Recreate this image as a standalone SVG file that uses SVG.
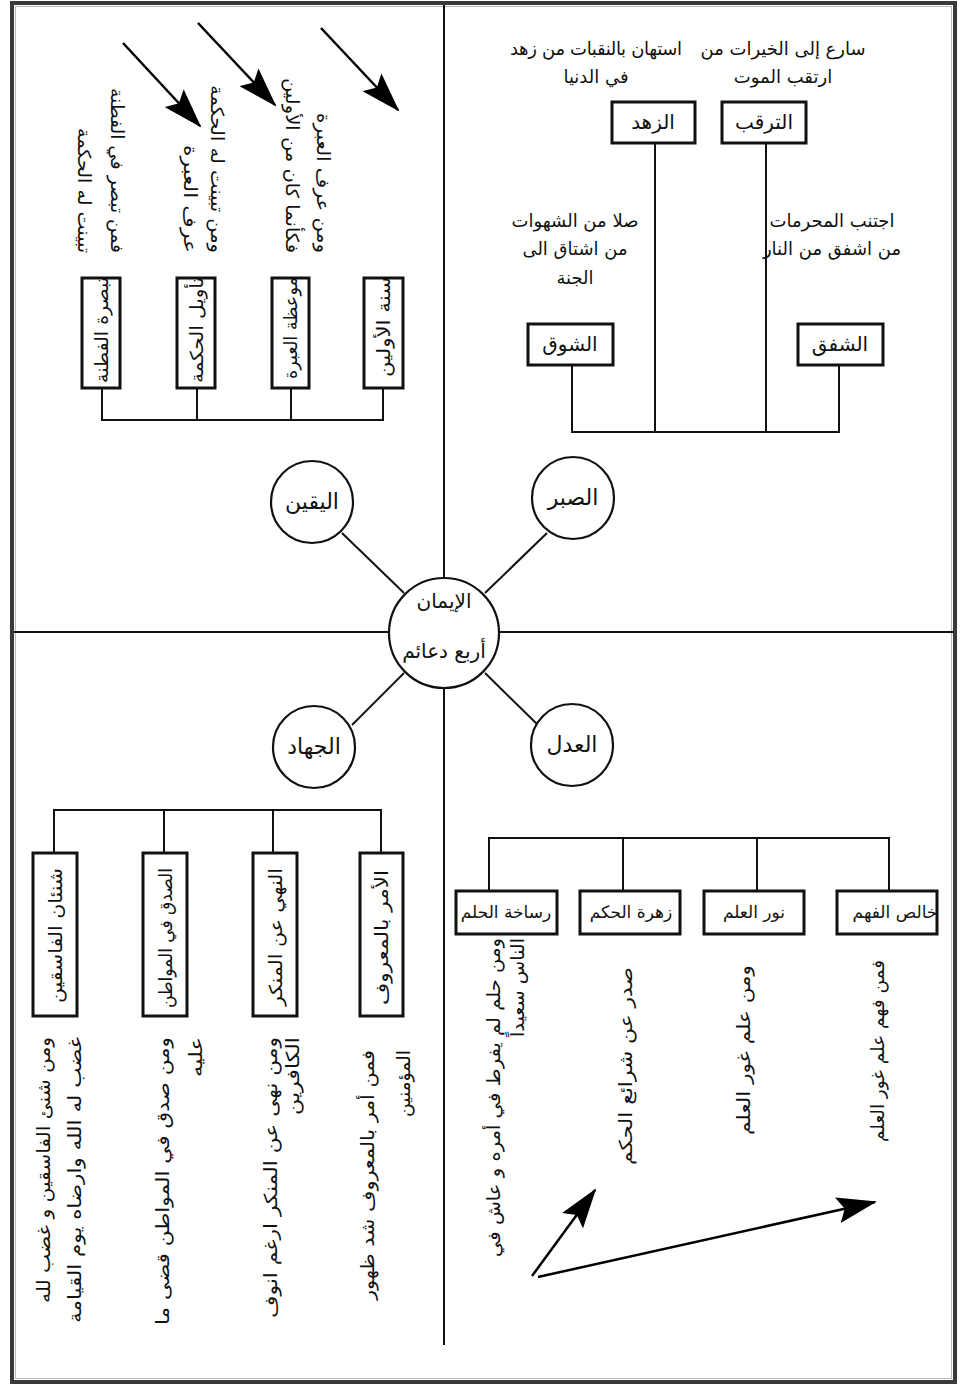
<svg xmlns="http://www.w3.org/2000/svg" width="966" height="1387" viewBox="0 0 966 1387">
<defs>
<marker id="ah" markerUnits="userSpaceOnUse" markerWidth="40" markerHeight="26" refX="38" refY="13" orient="auto">
<path d="M0,0 L40,13 L0,26 L7,13 Z" fill="#000"/>
</marker>
<style>
text{font-family:"DejaVu Sans","Noto Sans",sans-serif;fill:#111}
.ln{stroke:#111;stroke-width:2;fill:none}
.arr{stroke:#000;stroke-width:2.5;fill:none;marker-end:url(#ah)}
.box{fill:#fff;stroke:#111;stroke-width:3}
.cir{fill:#fff;stroke:#111;stroke-width:2.2}
.t17{font-size:17px}
.t18{font-size:18px}
.t20{font-size:20px}
.t22{font-size:22px}
.c{text-anchor:middle;dominant-baseline:central}
.v{text-anchor:end;dominant-baseline:central}
</style>
</defs>
<rect x="0" y="0" width="966" height="1387" fill="#fff"/>
<g id="frame">
<rect x="12" y="3" width="943" height="1379" fill="none" stroke="#3a3a3a" stroke-width="4"/>
<rect x="15.5" y="6.5" width="936" height="1372" fill="none" stroke="#bbb" stroke-width="1"/>
</g>
<g id="connectors">
<line class="ln" x1="444" y1="5" x2="444" y2="578"/>
<line class="ln" x1="444" y1="688" x2="444" y2="1345"/>
<line class="ln" x1="14" y1="632" x2="388" y2="632"/>
<line class="ln" x1="500" y1="632" x2="954" y2="632"/>
<line class="ln" x1="485" y1="593" x2="547" y2="533"/>
<line class="ln" x1="404" y1="593" x2="342" y2="533"/>
<line class="ln" x1="404" y1="673" x2="352" y2="725"/>
<line class="ln" x1="485" y1="673" x2="538" y2="725"/>
<polyline class="ln" points="655,143 655,432"/>
<polyline class="ln" points="766,143 766,432"/>
<polyline class="ln" points="572,365 572,432 839,432 839,365"/>
<polyline class="ln" points="102,388 102,420 383,420 383,388"/>
<line class="ln" x1="197" y1="388" x2="197" y2="420"/>
<line class="ln" x1="291" y1="388" x2="291" y2="420"/>
<polyline class="ln" points="54,853 54,810 381,810 381,853"/>
<line class="ln" x1="164" y1="810" x2="164" y2="853"/>
<line class="ln" x1="273" y1="810" x2="273" y2="853"/>
<polyline class="ln" points="489,891 489,838 889,838 889,891"/>
<line class="ln" x1="623" y1="838" x2="623" y2="891"/>
<line class="ln" x1="757" y1="838" x2="757" y2="891"/>
<line class="arr" x1="123" y1="43" x2="200" y2="126"/>
<line class="arr" x1="198" y1="23" x2="275" y2="105"/>
<line class="arr" x1="321" y1="28" x2="398" y2="110"/>
<line class="arr" x1="532" y1="1276" x2="595" y2="1190"/>
<line class="arr" x1="538" y1="1277" x2="875" y2="1202"/>
</g>
<g id="center">
<circle class="cir" cx="444" cy="633" r="55"/>
<text class="t20 c" x="444" y="601">الإيمان</text>
<text class="t20 c" x="444" y="651">أربع دعائم</text>
</g>
<g id="sabr"><circle class="cir" cx="573" cy="498" r="41"/><text class="t22 c" x="573" y="497">الصبر</text></g>
<g id="yaqin"><circle class="cir" cx="312" cy="502" r="41"/><text class="t22 c" x="312" y="501">اليقين</text></g>
<g id="jihad"><circle class="cir" cx="314" cy="747" r="41"/><text class="t22 c" x="314" y="746">الجهاد</text></g>
<g id="adl"><circle class="cir" cx="572" cy="745" r="41"/><text class="t22 c" x="572" y="744">العدل</text></g>

<g id="tarqub"><rect class="box" x="722" y="102" width="84" height="41"/><text class="t20 c" x="764" y="122">الترقب</text></g>
<g id="zuhd"><rect class="box" x="612" y="102" width="83" height="41"/><text class="t20 c" x="653" y="122">الزهد</text></g>
<g id="shafaq"><rect class="box" x="798" y="324" width="85" height="41"/><text class="t20 c" x="840" y="344">الشفق</text></g>
<g id="shawq"><rect class="box" x="528" y="324" width="85" height="41"/><text class="t20 c" x="570" y="344">الشوق</text></g>
<g id="tr-notes">
<text class="t18 c" x="783" y="48" textLength="165">سارع إلى الخيرات من</text>
<text class="t18 c" x="783" y="76">ارتقب الموت</text>
<text class="t18 c" x="596" y="48" textLength="172">استهان بالنقبات من زهد</text>
<text class="t18 c" x="596" y="76">في الدنيا</text>
<text class="t18 c" x="832" y="220">اجتنب المحرمات</text>
<text class="t18 c" x="832" y="248">من اشفق من النار</text>
<text class="t18 c" x="575" y="220">صلا من الشهوات</text>
<text class="t18 c" x="575" y="248">من اشتاق الى</text>
<text class="t18 c" x="575" y="277">الجنة</text>
</g>

<g id="tabsira"><rect class="box" x="82" y="278" width="38" height="110"/><text class="t18 v" textLength="106" lengthAdjust="spacingAndGlyphs" transform="translate(101,277) rotate(-90)">تبصرة الفطنة</text></g>
<g id="tawil"><rect class="box" x="177" y="278" width="38" height="110"/><text class="t18 v" textLength="106" lengthAdjust="spacingAndGlyphs" transform="translate(196,277) rotate(-90)">تأويل الحكمة</text></g>
<g id="mawiza"><rect class="box" x="272" y="278" width="37" height="110"/><text class="t18 v" textLength="102" lengthAdjust="spacingAndGlyphs" transform="translate(290,277) rotate(-90)">موعظة العبرة</text></g>
<g id="sunna"><rect class="box" x="364" y="278" width="39" height="110"/><text class="t18 v" textLength="100" lengthAdjust="spacingAndGlyphs" transform="translate(383,277) rotate(-90)">سنة الأولين</text></g>
<g id="tl-notes">
<text class="t18 v" textLength="140" lengthAdjust="spacingAndGlyphs" transform="translate(323,253) rotate(90)">ومن عرف العبرة</text>
<text class="t18 v" textLength="175" lengthAdjust="spacingAndGlyphs" transform="translate(292,253) rotate(90)">فكأنما كان من الأولين</text>
<text class="t18 v" textLength="168" lengthAdjust="spacingAndGlyphs" transform="translate(217,253) rotate(90)">ومن تبينت له الحكمة</text>
<text class="t18 v" textLength="108" lengthAdjust="spacingAndGlyphs" transform="translate(190,253) rotate(90)">عرف العبرة</text>
<text class="t18 v" textLength="165" lengthAdjust="spacingAndGlyphs" transform="translate(117,253) rotate(90)">فمن تبصر في الفطنة</text>
<text class="t18 v" textLength="125" lengthAdjust="spacingAndGlyphs" transform="translate(84,253) rotate(90)">تبينت له الحكمة</text>
</g>

<g id="shanaan"><rect class="box" x="33" y="853" width="44" height="163"/><text class="t18 v" textLength="135" lengthAdjust="spacingAndGlyphs" transform="translate(55,868) rotate(-90)">شنئان الفاسقين</text></g>
<g id="sidq"><rect class="box" x="143" y="853" width="44" height="163"/><text class="t18 v" textLength="140" lengthAdjust="spacingAndGlyphs" transform="translate(165,868) rotate(-90)">الصدق في المواطن</text></g>
<g id="nahy"><rect class="box" x="253" y="853" width="44" height="163"/><text class="t18 v" textLength="138" lengthAdjust="spacingAndGlyphs" transform="translate(275,868) rotate(-90)">النهي عن المنكر</text></g>
<g id="amr"><rect class="box" x="360" y="853" width="43" height="163"/><text class="t18 v" textLength="135" lengthAdjust="spacingAndGlyphs" transform="translate(381,870) rotate(-90)">الأمر بالمعروف</text></g>
<g id="bl-notes">
<text class="t18 v" textLength="266" lengthAdjust="spacingAndGlyphs" transform="translate(43,1037) rotate(-90)">ومن شنئ الفاسقين و غضب لله</text>
<text class="t18 v" textLength="286" lengthAdjust="spacingAndGlyphs" transform="translate(74,1037) rotate(-90)">غضب له الله وارضاه يوم القيامة</text>
<text class="t18 v" textLength="288" lengthAdjust="spacingAndGlyphs" transform="translate(162,1037) rotate(-90)">ومن صدق في المواطن قضى ما</text>
<text class="t18 v" textLength="40" lengthAdjust="spacingAndGlyphs" transform="translate(195,1037) rotate(-90)">عليه</text>
<text class="t18 v" textLength="281" lengthAdjust="spacingAndGlyphs" transform="translate(270,1037) rotate(-90)">ومن نهى عن المنكر ارغم انوف</text>
<text class="t18 v" textLength="78" lengthAdjust="spacingAndGlyphs" transform="translate(292,1037) rotate(-90)">الكافرين</text>
<text class="t18 v" textLength="250" lengthAdjust="spacingAndGlyphs" transform="translate(367,1050) rotate(-90)">فمن أمر بالمعروف شد ظهور</text>
<text class="t18 v" textLength="67" lengthAdjust="spacingAndGlyphs" transform="translate(403,1050) rotate(-90)">المؤمنين</text>
</g>

<g id="rasakha"><rect class="box" x="456" y="891" width="101" height="43"/><text class="t17 c" x="506" y="912">رساخة الحلم</text></g>
<g id="zahra"><rect class="box" x="580" y="891" width="100" height="43"/><text class="t17 c" x="631" y="912">زهرة الحكم</text></g>
<g id="nur"><rect class="box" x="704" y="891" width="100" height="43"/><text class="t17 c" x="754" y="912">نور العلم</text></g>
<g id="khalis"><rect class="box" x="837" y="891" width="100" height="43"/><text class="t17 c" x="895" y="912">خالص الفهم</text></g>
<g id="br-notes">
<text class="t18 v" textLength="319" lengthAdjust="spacingAndGlyphs" transform="translate(493,938) rotate(-90)">ومن حلم لم يفرط في أمره و عاش في</text>
<text class="t18 v" textLength="99" lengthAdjust="spacingAndGlyphs" transform="translate(517,938) rotate(-90)">الناس سعيداً</text>
<text class="t18 v" textLength="198" lengthAdjust="spacingAndGlyphs" transform="translate(625,967) rotate(-90)">صدر عن شرائع الحكم</text>
<text class="t18 v" textLength="170" lengthAdjust="spacingAndGlyphs" transform="translate(743,965) rotate(-90)">ومن علم غور العلم</text>
<text class="t18 v" textLength="182" lengthAdjust="spacingAndGlyphs" transform="translate(877,960) rotate(-90)">فمن فهم علم غور العلم</text>
</g>
</svg>
